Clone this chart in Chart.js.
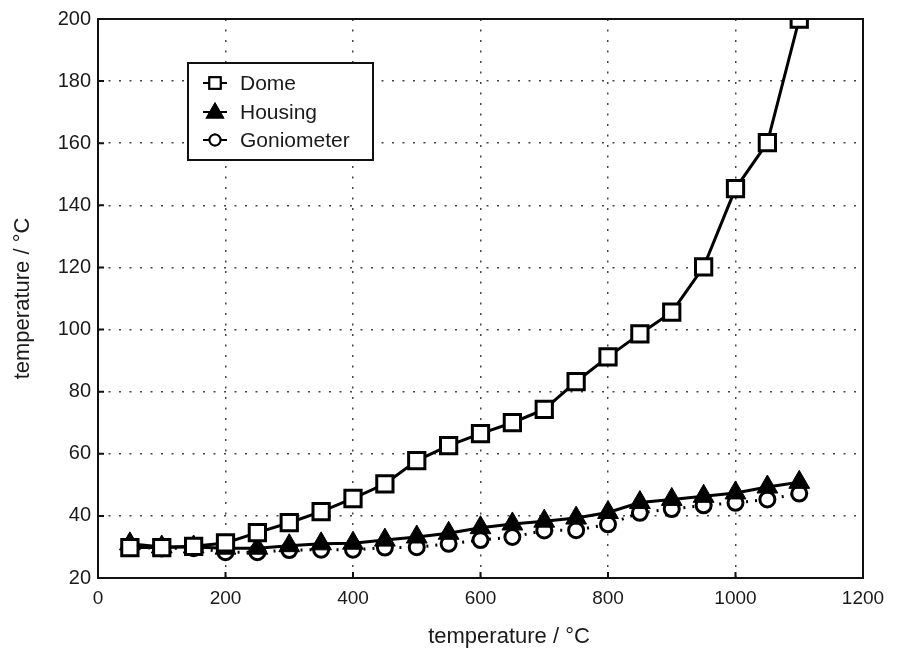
<!DOCTYPE html>
<html>
<head>
<meta charset="utf-8">
<script src="https://cdn.jsdelivr.net/npm/chart.js@4.4.1/dist/chart.umd.min.js"></script>
<style>
  html, body { margin: 0; padding: 0; background: #fff; }
  #wrap { width: 899px; height: 652px; }
</style>
</head>
<body>
<div id="wrap"><canvas id="tempChart" width="899" height="652"></canvas></div>
<script>
const heaterTemps = [50, 100, 150, 200, 250, 300, 350, 400, 450, 500, 550,
                     600, 650, 700, 750, 800, 850, 900, 950, 1000, 1050, 1100];
const dome = [29.8, 29.8, 30.2, 31.3, 34.6, 37.8, 41.4, 45.6, 50.3, 57.8, 62.6,
              66.5, 70, 74.3, 83.2, 91.2, 98.6, 105.6, 120.2, 145.4, 160.2, 200];
const housing = [31, 30, 30, 29.6, 29.6, 30.4, 31, 31.2, 32.2, 33.2, 34.4,
                 36.2, 37.4, 38.3, 39.3, 41.1, 44.3, 45.3, 46.3, 47.4, 49.3, 50.8];
const goniometer = [30, 29.5, 29.6, 28.3, 28.3, 29, 29.1, 29.1, 29.8, 29.9, 31,
                    32.2, 33.2, 35.3, 35.4, 37.3, 41, 42.2, 43.4, 44.2, 45.3, 47.2];
const xTicks = [0, 200, 400, 600, 800, 1000, 1200];
const yTicks = [20, 40, 60, 80, 100, 120, 140, 160, 180, 200];
const axisTitle = 'temperature / °C';

const toPoints = (ys) => ys.map((y, i) => ({ x: heaterTemps[i], y: y }));

const FONT = '"Liberation Sans", Arial, sans-serif';
Chart.defaults.font.family = FONT;
Chart.defaults.color = '#1a1a1a';

// frame, inward ticks, x title and the boxed legend inside the plot
const framePlugin = {
    id: 'frame',
    afterDraw(chart) {
        const ctx = chart.ctx;
        const a = chart.chartArea;
        const xs = chart.scales.x, ys = chart.scales.y;
        ctx.save();
        ctx.strokeStyle = '#111';
        ctx.lineWidth = 2;
        ctx.beginPath();
        xTicks.slice(1, -1).forEach(v => {
            const px = xs.getPixelForValue(v);
            ctx.moveTo(px, a.bottom);
            ctx.lineTo(px, a.bottom - 6);
        });
        yTicks.slice(1, -1).forEach(v => {
            const py = ys.getPixelForValue(v);
            ctx.moveTo(a.left, py);
            ctx.lineTo(a.left + 6, py);
        });
        ctx.stroke();
        ctx.strokeRect(a.left, a.top, a.right - a.left, a.bottom - a.top);

        // x axis title sits a bit right of centre in the original
        ctx.fillStyle = '#1a1a1a';
        ctx.font = '22px ' + FONT;
        ctx.textAlign = 'center';
        ctx.textBaseline = 'middle';
        ctx.fillText(axisTitle, 509, 637);

        // legend
        ctx.textAlign = 'left';
        ctx.fillStyle = '#fff';
        ctx.fillRect(188, 63, 185, 97);
        ctx.strokeRect(188, 63, 185, 97);
        const rows = [83, 112, 140];
        chart.data.datasets.forEach((ds, i) => {
            const y = rows[i];
            ctx.save();
            ctx.lineWidth = 2;
            ctx.strokeStyle = '#000';
            ctx.setLineDash([]);
            ctx.beginPath();
            ctx.moveTo(203, y);
            ctx.lineTo(227, y);
            ctx.stroke();
            Chart.helpers.drawPoint(ctx, {
                pointStyle: ds.pointStyle,
                radius: ds.pointStyle === 'triangle' ? 9 : (ds.pointStyle === 'rect' ? 8 : 5.5),
                borderWidth: 2
            }, 215, y + (ds.pointStyle === 'triangle' ? 1 : 0));
            ctx.fillStyle = ds.pointBackgroundColor;
            ctx.fill();
            ctx.stroke();
            ctx.restore();
            ctx.fillStyle = '#1a1a1a';
            ctx.font = '21px ' + FONT;
            ctx.textBaseline = 'middle';
            ctx.fillText(ds.label, 240, y + 1);
        });
        ctx.restore();
    }
};

new Chart(document.getElementById('tempChart').getContext('2d'), {
    type: 'line',
    data: {
        datasets: [
            {
                label: 'Dome',
                data: toPoints(dome),
                borderColor: '#000',
                borderWidth: 3,
                pointStyle: 'rect',
                pointRadius: 11.5,
                pointBorderWidth: 3,
                pointBackgroundColor: '#fff',
                pointBorderColor: '#000',
                clip: 0
            },
            {
                label: 'Housing',
                data: toPoints(housing),
                borderColor: '#000',
                borderWidth: 3,
                pointStyle: 'triangle',
                pointRadius: 12,
                pointBorderWidth: 1,
                pointBackgroundColor: '#000',
                pointBorderColor: '#000',
                clip: 0
            },
            {
                label: 'Goniometer',
                data: toPoints(goniometer),
                borderColor: '#000',
                borderWidth: 3,
                borderDash: [2, 7],
                pointStyle: 'circle',
                pointRadius: 7.5,
                pointBorderWidth: 3,
                pointBackgroundColor: '#fff',
                pointBorderColor: '#000',
                clip: 0
            }
        ]
    },
    options: {
        responsive: false,
        animation: false,
        layout: { padding: { top: 14, right: 36, left: 0, bottom: 0 } },
        plugins: {
            legend: { display: false },
            tooltip: { enabled: false }
        },
        scales: {
            x: {
                type: 'linear',
                min: 0,
                max: 1200,
                afterBuildTicks: (s) => { s.ticks = xTicks.map(v => ({ value: v })); },
                afterFit: (s) => { s.height = 74; },
                ticks: { font: { size: 19 }, padding: 9, callback: (v) => String(v) },
                grid: { color: '#444', lineWidth: 1.5, drawTicks: false },
                border: { display: false, dash: [2, 8.5] }
            },
            y: {
                min: 20,
                max: 200,
                afterBuildTicks: (s) => { s.ticks = yTicks.map(v => ({ value: v })); },
                afterFit: (s) => { s.width = 98; },
                ticks: { font: { size: 20 }, padding: 7, callback: (v) => String(v) },
                grid: { color: '#444', lineWidth: 1.5, drawTicks: false },
                border: { display: false, dash: [2, 8.5] },
                title: {
                    display: true,
                    text: axisTitle,
                    font: { size: 22 },
                    padding: { top: 10, bottom: 0 }
                }
            }
        }
    },
    plugins: [framePlugin]
});
</script>
</body>
</html>
